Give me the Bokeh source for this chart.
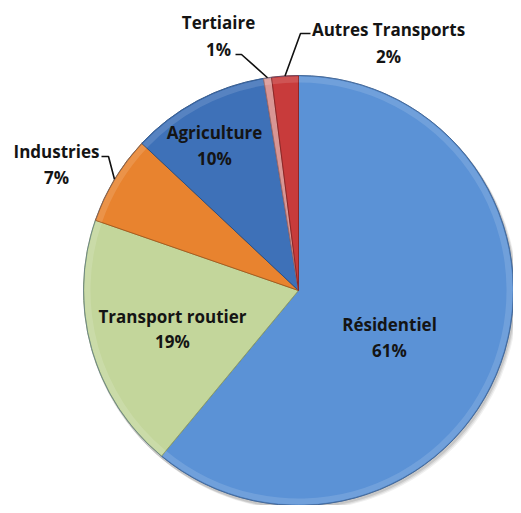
import math
from bokeh.plotting import figure
from bokeh.models import Range1d
from bokeh.core.properties import value
from bokeh.embed import file_html
from bokeh.resources import INLINE

# ---- data ----
categories = ["Résidentiel", "Transport routier", "Industries", "Agriculture", "Tertiaire", "Autres Transports"]
shares = [61.0, 19.3, 6.7, 10.4, 0.6, 2.0]
pct_labels = ["61%", "19%", "7%", "10%", "1%", "2%"]
colors = ["#5B92D6", "#C3D69B", "#E8832F", "#3E71B8", "#D99694", "#C83B3B"]
edge_colors = ["#41679A", "#8FA06A", "#A95C1E", "#2B5186", "#A06B6A", "#8E2626"]

# ---- layout (reference pixel coordinates, y downward) ----
H = 513
CX, CY, R = 298, 290, 215
# label centers: (x, y_name, y_pct)
label_pos = [(389, 324, 350), (172, 316, 341), (56, 151, 177),
             (214, 132, 158), (218, 22, 49), (388, 29, 56)]
# leader elbows for outside labels: index -> (start_x, elbow_x, y)
leaders = {2: (101, 108, 156), 4: (235, 241, 54), 5: (310, 300, 33)}


def Y(y):
    return H - y


p = figure(width=513, height=505, output_backend="svg", toolbar_location=None,
           x_range=Range1d(0, 513), y_range=Range1d(H - 505, H),
           min_border=0)
p.axis.visible = False
p.grid.visible = False
p.outline_line_color = None
p.background_fill_color = "white"
p.border_fill_color = "white"

# soft shadow
for dx, dy, a in [(3, 4, 0.06), (2, 3, 0.08), (1, 2, 0.10)]:
    p.circle(x=[CX + dx], y=[Y(CY + dy)], radius=R + 1, fill_color="#000000",
             fill_alpha=a, line_color=None)

total = sum(shares)
cum = 0.0
angles = []
for i, v in enumerate(shares):
    a0 = cum / total
    cum += v
    a1 = cum / total
    angles.append((a0, a1))
    start = math.pi / 2 - 2 * math.pi * a0
    end = math.pi / 2 - 2 * math.pi * a1
    p.wedge(x=[CX], y=[Y(CY)], radius=R, start_angle=start, end_angle=end,
            direction="clock", fill_color=colors[i], line_color=edge_colors[i],
            line_width=1)
    # bevel highlight near rim
    p.annular_wedge(x=[CX], y=[Y(CY)], inner_radius=R - 7, outer_radius=R - 1,
                    start_angle=start, end_angle=end, direction="clock",
                    fill_color="white", fill_alpha=0.13, line_color=None)

# outer rim outline
p.circle(x=[CX], y=[Y(CY)], radius=R, fill_color=None, line_color="#4A6E9C",
         line_alpha=0.5, line_width=1)

# labels
font = value("Open Sans")
for i, name in enumerate(categories):
    lx, ly1, ly2 = label_pos[i]
    p.text(x=[lx], y=[Y(ly1)], text=[name], text_font=font, text_font_style="bold",
           text_font_size="17px", text_align="center", text_baseline="middle",
           text_color="#141414")
    p.text(x=[lx], y=[Y(ly2)], text=[pct_labels[i]], text_font=font,
           text_font_style="bold", text_font_size="17px", text_align="center",
           text_baseline="middle", text_color="#141414")

# leader lines
for i, (sx, ex, ly) in leaders.items():
    a0, a1 = angles[i]
    mid = 2 * math.pi * (a0 + a1) / 2
    px = CX + R * math.sin(mid)
    py = CY - R * math.cos(mid)
    p.line(x=[sx, ex, px], y=[Y(ly), Y(ly), Y(py)], line_color="#111111",
           line_width=1.6)

open("out.html", "w").write(file_html(p, INLINE))
